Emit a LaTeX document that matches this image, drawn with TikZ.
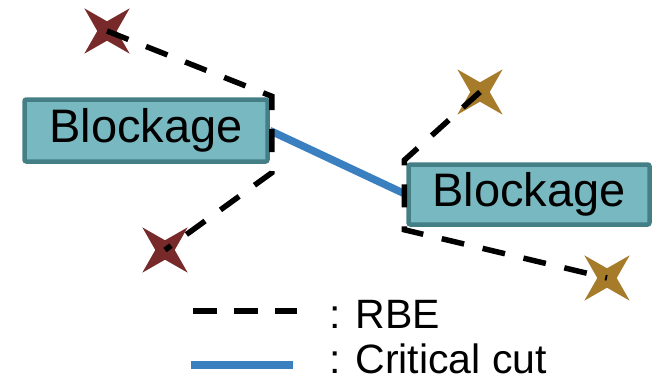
\documentclass[tikz,border=0pt]{standalone}
\usepackage{fontspec}
\setmainfont{Liberation Sans}
\usetikzlibrary{shapes.geometric,calc}
\definecolor{boxfill}{HTML}{78B8C1}
\definecolor{boxedge}{HTML}{447F86}
\definecolor{cutblue}{HTML}{3A7FBF}
\definecolor{rbered}{HTML}{782A2A}
\definecolor{rbegold}{HTML}{A67B2A}
\begin{document}
\begin{tikzpicture}[x=1pt,y=-1pt,
  blockbox/.style={draw=boxedge, fill=boxfill, line width=4.5pt, rounded corners=2pt,
    minimum width=243pt, minimum height=62pt, inner sep=0pt,
    font=\fontsize{47}{47}\selectfont},
  spark/.style={star, star points=4, star point ratio=3.3, minimum size=64pt,
    inner sep=0pt, shape border rotate=45, fill=#1, draw=none},
  rbe/.style={line width=5.5pt, dash pattern=on 23pt off 19pt, black},
  cut/.style={line width=7.5pt, cutblue},
  legendtext/.style={font=\fontsize{41}{41}\selectfont, anchor=base west,
    inner sep=0pt, outer sep=0pt, text depth=0pt}
]
\useasboundingbox (0,0) rectangle (658,383);

% blockages
\node[blockbox] (b1) at (146,130.5) {Blockage};
\node[blockbox, minimum width=241pt, minimum height=60pt] (b2) at (529,194.5) {Blockage};

% radiation sources
\node[spark=rbered] (s1) at (107,31) {};
\node[spark=rbegold] (s2) at (480,92) {};
\node[spark=rbered] (s3) at (165,250) {};
\node[spark=rbegold] (s4) at (607,278) {};

% corners of the blocking edges
\coordinate (k1) at ($(b1.north east)+(2,-1)$);
\coordinate (k2) at ($(b1.south east)+(2,9)$);
\coordinate (k3) at ($(b2.north west)+(-2,-2)$);
\coordinate (k4) at ($(b2.south west)+(-2,3)$);

% critical cut between the blockages
\draw[cut] (b1.east) -- (b2.west);

% RBE paths
\draw[rbe] (s1.center) -- (k1) -- (k2) -- (s3.center);
\draw[rbe] (s2.center) -- (k3) -- (k4) -- (s4.center);

% legend
\coordinate (la) at (193,311);
\coordinate (lb) at (297,311);
\coordinate (lc) at (191,365);
\coordinate (ld) at (293,365);
\draw[rbe, dash pattern=on 24pt off 17pt] (la) -- (lb);
\draw[cut, line width=8pt] (lc) -- (ld);
\node[legendtext] (t1) at (329,328) {: RBE};
\node[legendtext] (t2) at (329,373) {: Critical cut};
\end{tikzpicture}
\end{document}
